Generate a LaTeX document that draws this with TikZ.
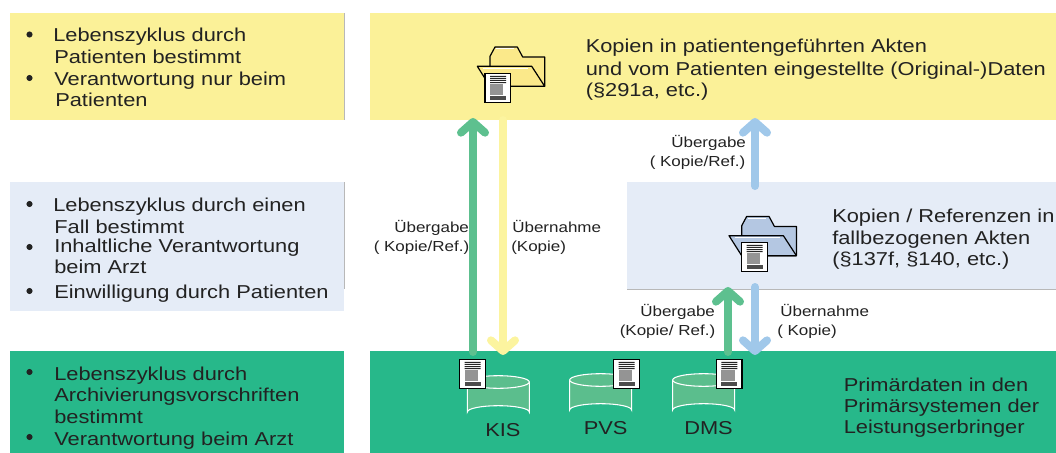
\documentclass[tikz,border=0pt]{standalone}
\usepackage{fontspec}
\setmainfont[FakeStretch=1.17]{Liberation Sans}
\usetikzlibrary{arrows.meta}
\definecolor{ylw}{HTML}{FBF198}
\definecolor{lblue}{HTML}{E5ECF7}
\definecolor{grn}{HTML}{27B88A}
\definecolor{agrn}{HTML}{5DC08F}
\definecolor{aylw}{HTML}{FCF49F}
\definecolor{ablu}{HTML}{A0C8EA}
\definecolor{cyl}{HTML}{5BBE8D}
\definecolor{fy}{HTML}{FBE98A}
\definecolor{fb}{HTML}{B4C7E2}
\definecolor{ink}{HTML}{222222}
\tikzset{
  x=0.75pt,y=-0.75pt,
  panel/.style={fill=#1,draw=none},
  edge/.style={draw=black!28,line width=0.6pt},
  big/.style={anchor=base west,inner sep=0pt,text=ink,font=\fontsize{14pt}{16pt}\selectfont},
  lab/.style={anchor=base west,inner sep=0pt,text=ink,font=\fontsize{10.9pt}{12pt}\selectfont},
  bul/.style={circle,fill=ink,inner sep=0pt,minimum size=4.6pt},
  flow/.style={line width=6pt,line cap=round,color=#1,
     -{Straight Barb[length=8pt,width=18pt,line width=6pt,round]},shorten >=1.5pt},
  pics/folder/.style={code={
    \draw[fill=#1,line width=0.9pt,line join=round] (0,0)--(0,-10)--(5,-19.3)--(27.3,-19.3)--(32.7,-9.3)--(54.7,-9.3)--(54.7,20)--(0,20)--cycle;
    \draw[fill=#1,line width=0.9pt,line join=round] (-12.7,0)--(41.7,0)--(54.7,20)--(0,20)--cycle;
    \draw[white,line width=0.7pt] (6,-17.5)--(24,-17.5) (-7,2)--(38,2);
  }},
  pics/sheet/.style={code={
    \draw[fill=white,line width=1pt] (0,0) rectangle (25.7,29);
    \fill[black!85] (5,2.5) rectangle (21,3.5) (5,4.6) rectangle (21,5.6) (5,6.7) rectangle (21,7.7) (5,8.8) rectangle (21,9.8);
    \fill[black!42] (5,11) rectangle (18.3,22);
    \fill[black!70] (5,23) rectangle (21,27);
  }},
  pics/drum/.style={code={
    \draw[white,fill=cyl,line width=0.8pt] (0,0) -- (0,30) arc[start angle=180,end angle=360,x radius=31,y radius=6.3] -- (62,0);
    \draw[white,fill=cyl,line width=0.8pt] (31,0) ellipse[x radius=31,y radius=6.3];
  }}
}
\begin{document}
\begin{tikzpicture}
\useasboundingbox (0,0) rectangle (1056,453);
% panels
\fill[panel=ylw] (10,13) rectangle (344,120);
\fill[panel=ylw] (370,13) rectangle (1056,120);
\fill[panel=lblue] (10,182) rectangle (344,311);
\fill[panel=lblue] (627,182) rectangle (1056,289);
\fill[panel=grn] (10,351) rectangle (344,453);
\fill[panel=grn] (370,351) rectangle (1056,453);
\draw[edge] (344,13)--(344,120) (344,182)--(344,289) (627,289)--(1056,289);
% connector ends
\coordinate (gaS) at (473,352); \coordinate (gaE) at (473,116);
\coordinate (yaS) at (503,120); \coordinate (yaE) at (503,357);
\coordinate (buS) at (755,186); \coordinate (buE) at (755,116);
\coordinate (glS) at (728,352); \coordinate (glE) at (728,285);
\coordinate (blS) at (755,287); \coordinate (blE) at (755,357);
\draw[flow=aylw] (yaS)--(yaE);
\draw[flow=agrn] (gaS)--(gaE);
\draw[flow=ablu] (buS)--(buE);
\draw[flow=agrn] (glS)--(glE);
\draw[flow=ablu] (blS)--(blE);
% folders
\pic at (490,66.3) {folder=fy};
\pic at (485,73.3) {sheet};
\pic at (741.7,235.7) {folder=fb};
\pic at (741.7,242.3) {sheet};
% drums
\pic at (467.3,382) {drum};
\pic at (569.6,380) {drum};
\pic at (672.6,380) {drum};
\pic at (459.7,359.3) {sheet};
\pic at (613.7,359.3) {sheet};
\pic at (716.3,359.3) {sheet};
\node[big] (kis) at (485,436) {KIS};
\node[big] (pvs) at (583.5,434) {PVS};
\node[big] (dms) at (684,434) {DMS};
% left top
\node[bul] (b1) at (29.5,34.5) {}; \node[bul] (b2) at (29.5,78) {};
\node[big] (t1) at (53,41.7) {Lebenszyklus durch};
\node[big] (t2) at (54,63.3) {Patienten bestimmt};
\node[big] (t3) at (54,85.7) {Verantwortung nur beim};
\node[big] (t4) at (55,106.7) {Patienten};
% left middle
\node[bul] (b3) at (29.5,204) {}; \node[bul] (b4) at (29.5,247) {}; \node[bul] (b5) at (29.5,291) {};
\node[big] (m1) at (53,211) {Lebenszyklus durch einen};
\node[big] (m2) at (54,233) {Fall bestimmt};
\node[big] (m3) at (54,252) {Inhaltliche Verantwortung};
\node[big] (m4) at (54,273) {beim Arzt};
\node[big] (m5) at (54,298) {Einwilligung durch Patienten};
% left bottom
\node[bul] (b6) at (29.5,372) {}; \node[bul] (b7) at (29.5,437) {};
\node[big] (g1) at (54,380) {Lebenszyklus durch};
\node[big] (g2) at (54,401) {Archivierungsvorschriften};
\node[big] (g3) at (54,423) {bestimmt};
\node[big] (g4) at (54,445) {Verantwortung beim Arzt};
% right
\node[big] (r1) at (585.5,53) {Kopien in patientengeführten Akten};
\node[big] (r2) at (585.5,75) {und vom Patienten eingestellte (Original-)Daten};
\node[big] (r3) at (585.5,97) {(§291a, etc.)};
\node[big] (s1) at (832,222) {Kopien / Referenzen in};
\node[big] (s2) at (832,244) {fallbezogenen Akten};
\node[big] (s3) at (832,265) {(§137f, §140, etc.)};
\node[big] (p1) at (843.5,391) {Primärdaten in den};
\node[big] (p2) at (843.5,412) {Primärsystemen der};
\node[big] (p3) at (843.5,433) {Leistungserbringer};
% labels
\node[lab] (l1) at (394,232) {Übergabe};
\node[lab] (l2) at (373.5,251) {( Kopie/Ref.)};
\node[lab] (l3) at (512,232) {Übernahme};
\node[lab] (l4) at (511,251) {(Kopie)};
\node[lab] (l5) at (671,147) {Übergabe};
\node[lab] (l6) at (649.5,166) {( Kopie/Ref.)};
\node[lab] (l7) at (640,316) {Übergabe};
\node[lab] (l8) at (619.5,335) {(Kopie/ Ref.)};
\node[lab] (l9) at (780,316) {Übernahme};
\node[lab] (l10) at (777,335) {( Kopie)};
\end{tikzpicture}
\end{document}
